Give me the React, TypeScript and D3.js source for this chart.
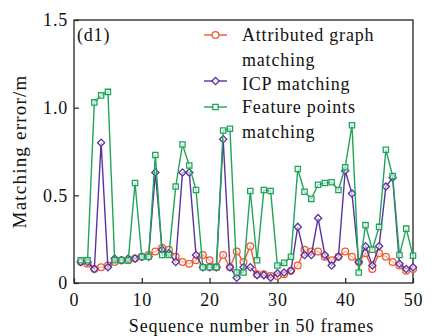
import React, { useEffect, useRef } from "react";
import * as d3 from "d3";

// sequence numbers (x categories)
const frames = d3.range(1, 51);

// matching error in metres
const attributedGraph = [
  0.12, 0.11, 0.08, 0.09, 0.1, 0.12, 0.13, 0.13, 0.14, 0.15,
  0.16, 0.18, 0.2, 0.19, 0.15, 0.12, 0.11, 0.13, 0.16, 0.13,
  0.09, 0.16, 0.09, 0.18, 0.12, 0.21, 0.05, 0.05, 0.04, 0.04,
  0.05, 0.07, 0.1, 0.19, 0.18, 0.18, 0.15, 0.13, 0.15, 0.18,
  0.15, 0.12, 0.17, 0.08, 0.17, 0.15, 0.12, 0.1, 0.07, 0.08,
];
const icp = [
  0.12, 0.12, 0.08, 0.8, 0.09, 0.14, 0.13, 0.14, 0.14, 0.15,
  0.15, 0.63, 0.19, 0.17, 0.12, 0.63, 0.63, 0.16, 0.09, 0.09,
  0.09, 0.82, 0.09, 0.03, 0.09, 0.09, 0.045, 0.045, 0.03, 0.055,
  0.06, 0.07, 0.32, 0.16, 0.16, 0.37, 0.16, 0.1, 0.15, 0.64,
  0.51, 0.12, 0.21, 0.1, 0.21, 0.55, 0.6, 0.11, 0.08, 0.09,
];
const featurePoints = [
  0.13, 0.13, 1.03, 1.07, 1.09, 0.13, 0.13, 0.13, 0.57, 0.15,
  0.15, 0.73, 0.16, 0.16, 0.55, 0.79, 0.67, 0.53, 0.09, 0.09,
  0.09, 0.87, 0.88, 0.06, 0.06, 0.525, 0.13, 0.53, 0.525, 0.1,
  0.115, 0.15, 0.65, 0.52, 0.48, 0.56, 0.57, 0.575, 0.53, 0.66,
  0.9, 0.06, 0.33, 0.19, 0.32, 0.76, 0.61, 0.16, 0.31, 0.155,
];

const xTicks = [0, 10, 20, 30, 40, 50];
const yTicks = [0, 0.5, 1.0, 1.5];

const seriesNames = [["Attributed graph", "matching"], ["ICP matching"], ["Feature points", "matching"]];

// rotate: diamond markers are squares turned 45 degrees
const series = [
  { name: seriesNames[0], values: attributedGraph, color: "#ef5a32", symbol: d3.symbolCircle, size: 36, rotate: 0 },
  { name: seriesNames[1], values: icp, color: "#5a32a0", symbol: d3.symbolSquare, size: 26, rotate: 45 },
  { name: seriesNames[2], values: featurePoints, color: "#1fa55a", symbol: d3.symbolSquare, size: 28, rotate: 0 },
];

const W = 435;
const H = 336;
const margin = { top: 20, right: 22, bottom: 53, left: 74 };
const FONT = "'Liberation Serif', 'Times New Roman', serif";
const FS = 18;
const LS = 0.8; // letter spacing

export default function App() {
  const svgRef = useRef<SVGSVGElement | null>(null);

  useEffect(() => {
    const svg = d3.select(svgRef.current);
    svg.selectAll("*").remove();

    const x = d3.scaleLinear().domain([0, 50]).range([margin.left, W - margin.right]);
    const y = d3.scaleLinear().domain([0, 1.5]).range([H - margin.bottom, margin.top]);

    // axes with inward ticks
    const xAxis = svg
      .append("g")
      .attr("transform", `translate(0,${H - margin.bottom})`)
      .call(d3.axisBottom(x).tickValues(xTicks).tickSizeInner(-5).tickSizeOuter(0).tickPadding(10).tickFormat(d3.format("d")));
    const yAxis = svg
      .append("g")
      .attr("transform", `translate(${margin.left},0)`)
      .call(
        d3.axisLeft(y).tickValues(yTicks).tickSizeInner(-5).tickSizeOuter(0).tickPadding(6)
          .tickFormat((d: any) => (d === 0 ? "0" : d3.format(".1f")(d)))
      );
    [xAxis, yAxis].forEach((g) => {
      g.select(".domain").remove();
      g.selectAll("line").attr("stroke", "#222").attr("stroke-width", 1.2);
      g.selectAll("text")
        .attr("font-family", FONT)
        .attr("font-size", FS)
        .attr("letter-spacing", LS)
        .attr("fill", "#111");
    });

    // frame
    svg
      .append("rect")
      .attr("x", margin.left)
      .attr("y", margin.top)
      .attr("width", W - margin.left - margin.right)
      .attr("height", H - margin.top - margin.bottom)
      .attr("fill", "none")
      .attr("stroke", "#222")
      .attr("stroke-width", 1.3);

    const line = d3
      .line<number>()
      .x((_, i) => x(frames[i]))
      .y((d) => y(d));

    series.forEach((s) => {
      svg
        .append("path")
        .datum(s.values)
        .attr("d", line)
        .attr("fill", "none")
        .attr("stroke", s.color)
        .attr("stroke-width", 1.4);
      const sym = d3.symbol().type(s.symbol).size(s.size);
      svg
        .append("g")
        .selectAll("path")
        .data(s.values)
        .enter()
        .append("path")
        .attr("transform", (d, i) => `translate(${x(frames[i])},${y(d)}) rotate(${s.rotate})`)
        .attr("d", sym as any)
        .attr("fill", "white")
        .attr("fill-opacity", 0.6)
        .attr("stroke", s.color)
        .attr("stroke-width", 1.3);
    });

    // legend
    const legendY = [35, 81, 107];
    const textY = [[41, 66], [90], [113, 138]];
    series.forEach((s, k) => {
      svg
        .append("line")
        .attr("x1", 204)
        .attr("x2", 227)
        .attr("y1", legendY[k])
        .attr("y2", legendY[k])
        .attr("stroke", s.color)
        .attr("stroke-width", 1.4);
      svg
        .append("path")
        .attr("transform", `translate(215.5,${legendY[k]}) rotate(${s.rotate})`)
        .attr("d", d3.symbol().type(s.symbol).size(s.size)() as string)
        .attr("fill", "white")
        .attr("stroke", s.color)
        .attr("stroke-width", 1.3);
      s.name.forEach((t, j) => {
        svg
          .append("text")
          .attr("x", 242)
          .attr("y", textY[k][j])
          .attr("font-family", FONT)
          .attr("font-size", FS)
          .attr("letter-spacing", LS)
          .attr("fill", "#111")
          .text(t);
      });
    });

    // panel label
    svg
      .append("text")
      .attr("x", 77)
      .attr("y", 41)
      .attr("font-family", FONT)
      .attr("font-size", FS)
      .attr("letter-spacing", LS)
      .attr("fill", "#111")
      .text("(d1)");

    // axis titles
    svg
      .append("text")
      .attr("x", (margin.left + W - margin.right) / 2 + 8)
      .attr("y", 332)
      .attr("text-anchor", "middle")
      .attr("font-family", FONT)
      .attr("font-size", FS)
      .attr("letter-spacing", LS)
      .attr("fill", "#111")
      .text("Sequence number in 50 frames");
    svg
      .append("text")
      .attr("transform", `translate(26,${(margin.top + H - margin.bottom) / 2}) rotate(-90)`)
      .attr("text-anchor", "middle")
      .attr("font-family", FONT)
      .attr("font-size", 19)
      .attr("letter-spacing", 1.2)
      .attr("fill", "#111")
      .text("Matching error/m");
  }, []);

  return (
    <svg
      ref={svgRef}
      width={W}
      height={H}
      style={{ position: "absolute", left: 0, top: 0, background: "white" }}
    ></svg>
  );
}
